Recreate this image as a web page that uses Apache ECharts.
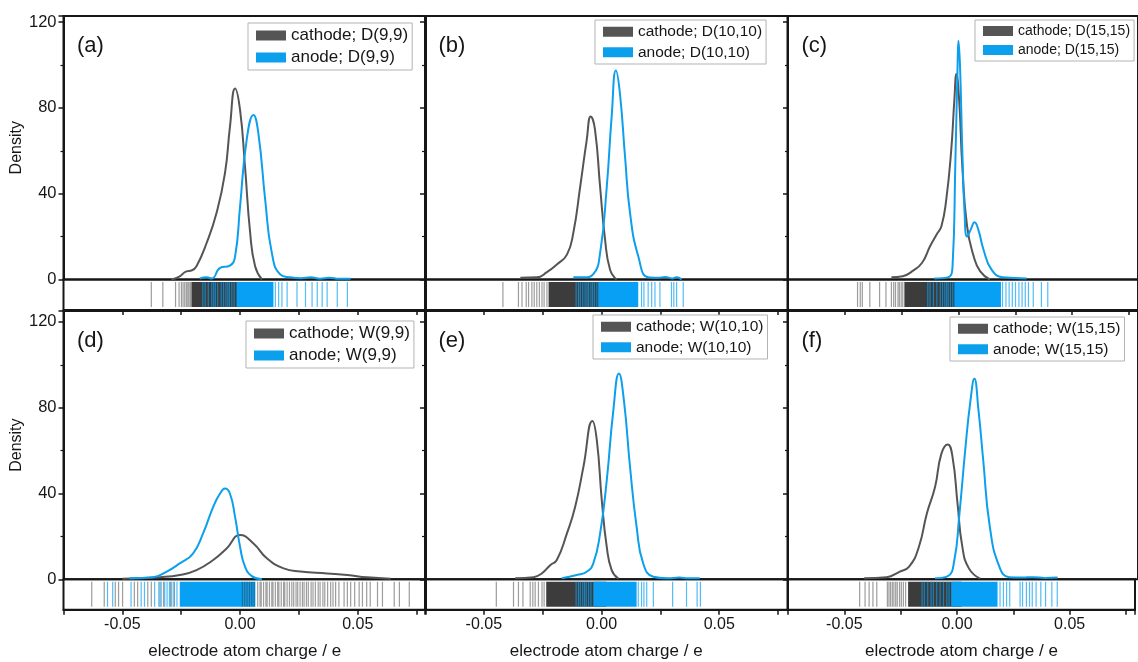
<!DOCTYPE html>
<html>
<head>
<meta charset="utf-8">
<script src="https://cdn.jsdelivr.net/npm/echarts@6/dist/echarts.min.js"></script>
<style>
  html, body { margin: 0; padding: 0; background: #fff; }
  #chart { width: 1138px; height: 662px; }
</style>
</head>
<body>
<div id="chart"></div>
<script>
// ---------------- data ----------------
// Kernel density curves: [charge (e), density]
const cathodeA = [[-0.0292,0],[-0.026,1.2],[-0.0228,3.8],[-0.0206,4.2],[-0.0185,6.2],[-0.0142,17],[-0.010,31],[-0.0064,49.6],[-0.0043,71],[-0.0021,89],[0.0,79],[0.0021,52.7],[0.0043,21.7],[0.0064,6.2],[0.0093,0]];
const anodeA = [[-0.0171,0.5],[-0.0142,1],[-0.012,0.5],[-0.0085,5.4],[-0.0043,6.5],[-0.0021,10.8],[0,34],[0.0028,65],[0.0057,76.7],[0.0078,68],[0.0107,37],[0.0135,12.4],[0.0171,2.3],[0.0214,1],[0.026,0.6],[0.030,1],[0.034,0.4],[0.038,0.8],[0.042,0.3],[0.047,0.3]];

const cathodeB = [[-0.0345,0.8],[-0.0275,1],[-0.0232,3.4],[-0.019,7],[-0.0147,11.6],[-0.012,21.7],[-0.0091,43],[-0.0063,65],[-0.0046,76],[-0.0028,70],[-0.0006,43],[0.0015,18.6],[0.0036,4.7],[0.0064,0]];
const anodeB = [[-0.012,1],[-0.0077,1],[-0.0035,2.5],[-0.0006,12.4],[0.0022,43],[0.0043,76],[0.0061,97.4],[0.0078,86.8],[0.01,57],[0.0121,31],[0.0156,10.8],[0.0198,1],[0.024,0.8],[0.027,1.2],[0.030,0.5],[0.0319,1],[0.034,0]];

const cathodeC = [[-0.0295,1],[-0.0245,1.5],[-0.0203,3.9],[-0.016,7.8],[-0.0125,15.5],[-0.0096,21],[-0.0075,24.8],[-0.0054,37],[-0.0032,60],[-0.0018,83.7],[-0.0009,95.8],[0.0003,83.7],[0.0017,52.7],[0.0038,24.8],[0.0067,10.8],[0.0095,3.9],[0.0138,0]];
const anodeC = [[-0.0106,0.5],[-0.0047,1],[-0.0026,6.2],[-0.0014,52.7],[-0.0004,99],[0,111.3],[0.0007,99],[0.0017,60],[0.0027,31],[0.0038,20],[0.0053,23],[0.0071,26.7],[0.0088,23],[0.011,14],[0.0145,4.7],[0.0195,1],[0.025,0.7],[0.030,0.5]];

const cathodeD = [[-0.05,0.3],[-0.034,1],[-0.0256,2],[-0.0185,4.3],[-0.0114,9],[-0.0057,14.4],[0,20.6],[0.0057,16.7],[0.0114,9.8],[0.0185,5.1],[0.0256,3.6],[0.037,2.7],[0.0456,2],[0.054,0.9],[0.064,0.3]];
const anodeD = [[-0.047,0.5],[-0.037,1],[-0.0313,3.5],[-0.0256,7.4],[-0.02,12],[-0.0157,21.4],[-0.0114,33.8],[-0.0085,40],[-0.0064,42.3],[-0.0043,40],[-0.0021,29],[0,15.2],[0.0021,5.9],[0.005,1.5],[0.0093,0]];

const cathodeE = [[-0.0367,0.5],[-0.0289,1],[-0.0253,2.8],[-0.0218,6.6],[-0.019,9],[-0.0147,21.4],[-0.0112,33.8],[-0.0077,52.4],[-0.0039,73.8],[-0.002,64.8],[0.0001,36.9],[0.0022,15.2],[0.0043,4.3],[0.0071,0.3]];
const anodeE = [[-0.0169,0.5],[-0.0105,2],[-0.0063,3.5],[-0.0035,7.4],[-0.0006,21.4],[0.0022,46],[0.005,78.7],[0.0074,96],[0.0095,83.4],[0.0121,52.4],[0.0149,24.5],[0.0177,7.4],[0.022,1.2],[0.028,0.5],[0.033,0.8],[0.037,0.5],[0.0417,0.5]];

const cathodeF = [[-0.0415,0.5],[-0.0316,1],[-0.026,3.5],[-0.0217,5.9],[-0.0174,15.2],[-0.0139,30.7],[-0.0103,43],[-0.0075,58.6],[-0.0047,62.9],[-0.0026,57],[-0.0004,35.3],[0.0017,15.2],[0.0046,5.1],[0.0095,0.3]];
const anodeF = [[-0.0103,0.5],[-0.0047,1.5],[-0.0018,9],[0.0003,29],[0.0031,61.7],[0.0053,83.4],[0.007,93.5],[0.0088,79],[0.0109,55.5],[0.0138,24.5],[0.018,5.9],[0.0223,1],[0.028,0.8],[0.033,1],[0.038,0.6],[0.0436,0.8]];

// Rug plots: single atom charges and stretches so dense they read as a solid block
const rugCathodeTicksA = [-0.0377,-0.0328,-0.0274,-0.0259,-0.0249,-0.0242,-0.0235,-0.0228,-0.0222,-0.0217,-0.0211,-0.0206];
const rugCathodeBandsA = [[-0.0205,0.004]];
const rugAnodeTicksA = [-0.0158,-0.0148,-0.0135,-0.012,-0.0112,-0.0105,-0.0095,-0.008,-0.007,-0.006,-0.0052,-0.0045,-0.0035,-0.0025,0.015,0.0164,0.0178,0.020,0.0242,0.0278,0.0306,0.0328,0.0349,0.037,0.0413,0.0456];
const rugAnodeBandsA = [[-0.0015,0.0142]];

const rugCathodeTicksB = [-0.0419,-0.0353,-0.0338,-0.032,-0.031,-0.0296,-0.0286,-0.0275,-0.0264,-0.0253,-0.0244,-0.0232];
const rugCathodeBandsB = [[-0.0225,0.002]];
const rugAnodeTicksB = [-0.0108,-0.0098,-0.009,-0.008,-0.007,-0.0062,-0.0055,-0.0045,-0.0038,-0.003,-0.002,0.017,0.018,0.0198,0.0213,0.0227,0.0248,0.0297,0.0307,0.0319,0.0347];
const rugAnodeBandsB = [[-0.0014,0.0156]];

const rugCathodeTicksC = [-0.0444,-0.0432,-0.0423,-0.039,-0.0347,-0.0319,-0.0295,-0.0285,-0.0277,-0.0266,-0.026,-0.0252,-0.0245];
const rugCathodeBandsC = [[-0.0238,0.003]];
const rugAnodeTicksC = [-0.0135,-0.0125,-0.011,-0.0095,-0.008,-0.007,-0.006,-0.0052,-0.0045,-0.0035,-0.0025,0.0194,0.0209,0.0223,0.0237,0.0251,0.0266,0.028,0.0294,0.0308,0.0329,0.0365,0.0393];
const rugAnodeBandsC = [[-0.0018,0.0187]];

const rugCathodeTicksD = [-0.063,-0.0577,-0.053,-0.0516,-0.0499,-0.0449,-0.0435,-0.0392,-0.0377,-0.034,-0.0325,-0.0295,-0.028,
  0.001,0.002,0.003,0.004,0.005,0.006,0.0075,0.0085,0.009,0.010,0.011,0.0115,0.0125,0.0135,0.014,0.015,0.016,0.0165,0.0175,0.0185,0.019,0.020,0.021,0.022,0.0228,0.0238,0.0245,0.0255,0.0265,0.0272,0.0282,0.029,0.0302,0.031,0.032,0.0332,0.034,0.0352,0.036,0.0372,0.0385,0.0395,
  0.0406,0.042,0.0442,0.0456,0.047,0.0487,0.0506,0.052,0.0538,0.0553,0.0584,0.0605,0.0655,0.0677,0.0719];
const rugCathodeBandsD = [];
const rugAnodeTicksD = [-0.0563,-0.0541,-0.0463,-0.042,-0.0406,-0.0363,-0.0345,-0.0335,-0.032,-0.031,-0.03,-0.029,-0.028,-0.0268];
const rugAnodeBandsD = [[-0.0256,0.0065]];

const rugCathodeTicksE = [-0.0447,-0.0374,-0.0353,-0.0334,-0.0303,-0.0292,-0.0282,-0.0268,-0.0253,-0.0244];
const rugCathodeBandsE = [[-0.0235,0.002]];
const rugAnodeTicksE = [-0.0108,-0.0098,-0.009,-0.008,-0.0072,-0.0065,-0.0055,-0.0045,0.0156,0.017,0.018,0.0192,0.022,0.0302,0.0361,0.0406,0.042];
const rugAnodeBandsE = [[-0.0035,0.0149]];

const rugCathodeTicksF = [-0.0432,-0.0408,-0.039,-0.0373,-0.0356,-0.0309,-0.0302,-0.0295,-0.0287,-0.028,-0.0272,-0.0265,-0.0255,-0.0247,-0.0238,-0.0228];
const rugCathodeBandsF = [[-0.0217,0.002]];
const rugAnodeTicksF = [-0.0155,-0.0145,-0.013,-0.0115,-0.0105,-0.009,-0.0075,-0.006,-0.0045,-0.0035,0.0191,0.0206,0.022,0.0234,0.028,0.0291,0.0308,0.0322,0.0334,0.0351,0.0372,0.0393,0.0421,0.0445];
const rugAnodeBandsF = [[-0.0026,0.018]];

const panelLabels = ['(a)', '(b)', '(c)', '(d)', '(e)', '(f)'];
const cathodeNames = ['cathode; D(9,9)', 'cathode; D(10,10)', 'cathode; D(15,15)', 'cathode; W(9,9)', 'cathode; W(10,10)', 'cathode; W(15,15)'];
const anodeNames = ['anode; D(9,9)', 'anode; D(10,10)', 'anode; D(15,15)', 'anode; W(9,9)', 'anode; W(10,10)', 'anode; W(15,15)'];
const yTickLabels = [0, 40, 80, 120];
const xTickLabels = [-0.05, 0, 0.05];

const panels = [
  { cathode: cathodeA, anode: anodeA, cTicks: rugCathodeTicksA, cBands: rugCathodeBandsA, aTicks: rugAnodeTicksA, aBands: rugAnodeBandsA },
  { cathode: cathodeB, anode: anodeB, cTicks: rugCathodeTicksB, cBands: rugCathodeBandsB, aTicks: rugAnodeTicksB, aBands: rugAnodeBandsB },
  { cathode: cathodeC, anode: anodeC, cTicks: rugCathodeTicksC, cBands: rugCathodeBandsC, aTicks: rugAnodeTicksC, aBands: rugAnodeBandsC },
  { cathode: cathodeD, anode: anodeD, cTicks: rugCathodeTicksD, cBands: rugCathodeBandsD, aTicks: rugAnodeTicksD, aBands: rugAnodeBandsD },
  { cathode: cathodeE, anode: anodeE, cTicks: rugCathodeTicksE, cBands: rugCathodeBandsE, aTicks: rugAnodeTicksE, aBands: rugAnodeBandsE },
  { cathode: cathodeF, anode: anodeF, cTicks: rugCathodeTicksF, cBands: rugCathodeBandsF, aTicks: rugAnodeTicksF, aBands: rugAnodeBandsF }
];

// ---------------- layout & style ----------------
const FONT = '"Liberation Sans", Arial, Helvetica, sans-serif';
const INK = '#161616';
const GRAY = '#555555';
const BLUE = '#0c9fec';
const RUG_GRAY = '#3c3c3c';
const RUG_BLUE = '#08a0f4';

const xRange = [-0.075, 0.079];
const colLeft = [63.5, 425, 788];
const plotWidth = 362.5;
const rowTop = [16, 311];
const densityHeight = [263.5, 268.3];
const rugHeight = 30.5;
const rowYMax = [122.8, 125.1];

const legendLayout = [
  { left: 248, top: 23, fontSize: 17 },
  { left: 595, top: 20, fontSize: 15.5 },
  { left: 975, top: 20, fontSize: 14 },
  { left: 246, top: 321, fontSize: 17 },
  { left: 593, top: 315, fontSize: 15.5 },
  { left: 950, top: 317, fontSize: 15.5 }
];

function rugTick(color, opacity, width) {
  return function (params, api) {
    const p0 = api.coord([api.value(0), 0]);
    const p1 = api.coord([api.value(0), 1]);
    return {
      type: 'line',
      shape: { x1: p0[0], y1: p0[1], x2: p1[0], y2: p1[1] },
      style: { stroke: color, lineWidth: width, opacity: opacity }
    };
  };
}
function rugBand(color) {
  return function (params, api) {
    const a = api.coord([api.value(0), 1]);
    const b = api.coord([api.value(1), 0]);
    return {
      type: 'rect',
      shape: { x: a[0], y: a[1], width: b[0] - a[0], height: b[1] - a[1] },
      style: { fill: color }
    };
  };
}

const grid = [], xAxis = [], yAxis = [], series = [], legend = [], title = [];

panels.forEach((p, i) => {
  const row = Math.floor(i / 3), col = i % 3;
  const left = colLeft[col], top = rowTop[row], h = densityHeight[row];
  const dIdx = 2 * i, rIdx = 2 * i + 1;

  grid.push({ left: left, top: top, width: plotWidth, height: h, show: true, borderColor: INK, borderWidth: 2, backgroundColor: 'transparent' });
  grid.push({ left: left, top: top + h, width: plotWidth, height: rugHeight, show: true, borderColor: INK, borderWidth: 2, backgroundColor: 'transparent' });

  xAxis.push({ gridIndex: dIdx, type: 'value', min: xRange[0], max: xRange[1], show: false });
  xAxis.push({
    gridIndex: rIdx, type: 'value', min: xRange[0], max: xRange[1], interval: 0.025, position: 'bottom',
    axisLine: { show: true, onZero: false, lineStyle: { color: INK, width: 2 } },
    axisTick: { show: true, inside: false, length: 5, lineStyle: { color: INK, width: 1.5 } },
    axisLabel: {
      show: row === 1, margin: 7, color: INK, fontSize: 16, fontFamily: FONT,
      formatter: v => {
        const r = Math.round(v * 1000);
        return xTickLabels.some(t => Math.round(t * 1000) === r) ? (r / 1000).toFixed(2) : '';
      }
    },
    splitLine: { show: false },
    name: row === 1 ? 'electrode atom charge / e' : '',
    nameLocation: 'middle', nameGap: 33,
    nameTextStyle: { color: INK, fontSize: 17, fontFamily: FONT }
  });

  yAxis.push({
    gridIndex: dIdx, type: 'value', min: 0, max: rowYMax[row], interval: 40,
    axisLine: { show: true, onZero: false, lineStyle: { color: INK, width: 2 } },
    axisTick: { show: true, inside: false, length: 5, lineStyle: { color: INK, width: 1.5 } },
    minorTick: { show: true, splitNumber: 2, length: 3, lineStyle: { color: INK, width: 1.2 } },
    axisLabel: {
      show: col === 0, margin: 7, color: INK, fontSize: 16.5, fontFamily: FONT,
      formatter: v => (yTickLabels.indexOf(Math.round(v)) >= 0 && Math.abs(v - Math.round(v)) < 1e-6) ? String(Math.round(v)) : ''
    },
    splitLine: { show: false }, minorSplitLine: { show: false },
    name: col === 0 ? 'Density' : '',
    nameLocation: 'middle', nameGap: 33, nameRotate: 90,
    nameTextStyle: { color: INK, fontSize: 16, fontFamily: FONT }
  });
  yAxis.push({ gridIndex: rIdx, type: 'value', min: -0.12, max: 1.1, show: false });

  // density curves
  series.push({
    name: cathodeNames[i], type: 'line', xAxisIndex: dIdx, yAxisIndex: dIdx,
    data: p.cathode, smooth: 0.5, symbol: 'none', clip: true,
    lineStyle: { color: GRAY, width: 2 }, itemStyle: { color: GRAY }, z: 3
  });
  series.push({
    name: anodeNames[i], type: 'line', xAxisIndex: dIdx, yAxisIndex: dIdx,
    data: p.anode, smooth: 0.5, symbol: 'none', clip: true,
    lineStyle: { color: BLUE, width: 2 }, itemStyle: { color: BLUE }, z: 4
  });

  // rug strips
  series.push({
    type: 'custom', xAxisIndex: rIdx, yAxisIndex: rIdx, clip: true, silent: true, z: 2,
    data: p.cBands.map(b => [b[0], b[1], 0, 1]), encode: { x: [0, 1], y: [2, 3] },
    renderItem: rugBand(RUG_GRAY)
  });
  series.push({
    type: 'custom', xAxisIndex: rIdx, yAxisIndex: rIdx, clip: true, silent: true, z: 2,
    data: p.aBands.map(b => [b[0], b[1], 0, 1]), encode: { x: [0, 1], y: [2, 3] },
    renderItem: rugBand(RUG_BLUE)
  });
  series.push({
    type: 'custom', xAxisIndex: rIdx, yAxisIndex: rIdx, clip: true, silent: true, z: 3,
    data: p.cTicks.map(v => [v, 0]), encode: { x: 0, y: 1 },
    renderItem: rugTick(RUG_GRAY, 0.5, 1.2)
  });
  series.push({
    type: 'custom', xAxisIndex: rIdx, yAxisIndex: rIdx, clip: true, silent: true, z: 3,
    data: p.aTicks.map(v => [v, 0]), encode: { x: 0, y: 1 },
    renderItem: rugTick(RUG_BLUE, 0.7, 1.2)
  });

  const L = legendLayout[i];
  legend.push({
    data: [cathodeNames[i], anodeNames[i]], orient: 'vertical', left: L.left, top: L.top,
    icon: 'rect', itemWidth: 30, itemHeight: 10, itemGap: 3, selectedMode: false,
    padding: [3, 4, 3, 8], borderColor: '#b3b3b3', borderWidth: 1, backgroundColor: '#fff',
    textStyle: { color: INK, fontSize: L.fontSize, fontFamily: FONT, lineHeight: L.fontSize + 2 }
  });

  title.push({
    text: panelLabels[i], left: left + 13.5, top: top + 19, padding: 0,
    textStyle: { color: INK, fontSize: 22, fontWeight: 'normal', fontFamily: FONT }
  });
});

const chart = echarts.init(document.getElementById('chart'), null, { renderer: 'canvas' });
chart.setOption({
  animation: false,
  backgroundColor: '#fff',
  title: title,
  legend: legend,
  grid: grid,
  xAxis: xAxis,
  yAxis: yAxis,
  series: series
});
</script>
</body>
</html>
